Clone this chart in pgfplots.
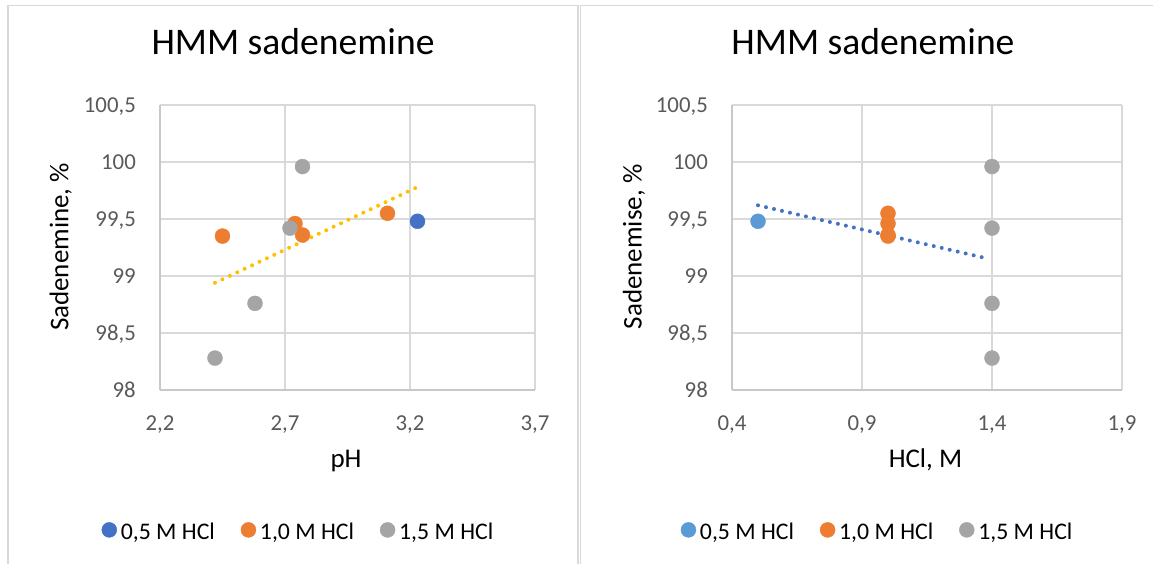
\documentclass[border=0pt]{standalone}
\usepackage{pgfplots}
\pgfplotsset{compat=1.18}
\usepackage{fontspec}
\setmainfont{Carlito}
\definecolor{xblue}{HTML}{4472C4}
\definecolor{xlblue}{HTML}{5B9BD5}
\definecolor{xorange}{HTML}{ED7D31}
\definecolor{xgray}{HTML}{A5A5A5}
\definecolor{xyellow}{HTML}{FFC000}
\definecolor{gridc}{HTML}{D9D9D9}
\definecolor{axisc}{HTML}{C8C8C8}
\definecolor{tickc}{HTML}{595959}
\definecolor{framec}{HTML}{D9D9D9}
\pgfplotsset{
  panel/.style={
    scale only axis, height=285pt,
    ymin=98, ymax=100.5,
    ytick={98,98.5,99,99.5,100,100.5},
    yticklabels={98,{98,5},99,{99,5},100,{100,5}},
    /pgf/number format/assume math mode=true,
    grid=major, major grid style={gridc, line width=1.3pt},
    axis x line=bottom, axis y line=left,
    axis line style={-, axisc, line width=1.3pt},
    major tick length=0pt,
    tick label style={font=\fontsize{22.8}{26}\selectfont, color=tickc, inner sep=0pt, text depth=0pt},
    yticklabel style={anchor=east, xshift=-24pt},
    xticklabel style={anchor=north, yshift=-25.5pt},
    title style={font=\fontsize{37.6}{42}\selectfont, anchor=base},
    label style={font=\fontsize{27}{31}\selectfont},
    xlabel style={anchor=base, at={(axis description cs:0.496,-0.272)}},
    legend columns=3,
    legend style={draw=none, fill=none, inner sep=0pt,
      font=\fontsize{23.8}{27}\selectfont,
      nodes={inner sep=0pt},
      /tikz/every odd column/.append style={column sep=4pt},
      /tikz/every even column/.append style={column sep=26pt}},
    legend image code/.code={\draw[#1] plot coordinates {(0pt,2pt)};},
  },
  pts/.style={only marks, mark=*, mark size=7.5pt, mark options={draw=none, fill=#1}, color=#1},
  trend/.style={forget plot, color=#1, line width=4pt, line cap=round, dash pattern=on 0pt off 8.2pt},
}
\begin{document}
\begin{tikzpicture}
\useasboundingbox (0pt,0pt) rectangle (1153pt,564pt);
\draw[framec, line width=1.3pt] (8pt,0pt) -- (8pt,558.3pt) -- (578pt,558.3pt) -- (578pt,0pt);
\draw[framec, line width=1.3pt] (580.3pt,0pt) -- (580.3pt,558.5pt) -- (1153pt,558.5pt);

\begin{axis}[panel, at={(160pt,174pt)}, anchor=south west, width=375pt,
  xmin=2.2, xmax=3.7, xtick={2.2,2.7,3.2,3.7},
  xticklabels={{2,2},{2,7},{3,2},{3,7}},
  title={HMM sadenemine},
  title style={at={(axis description cs:0.3547,1.1544)}},
  xlabel={pH}, ylabel={Sadenemine, \%},
  ylabel style={anchor=base, at={(axis description cs:-0.244,0.502)}},
  legend style={at={(axis description cs:0.3667,-0.497)}, anchor=center},
]
\addplot[pts=xblue] coordinates {(3.23,99.48)};
\addlegendentry{0,5 M HCl}
\addplot[pts=xorange] coordinates {(2.45,99.35) (2.74,99.46) (2.77,99.36) (3.11,99.55)};
\addlegendentry{1,0 M HCl}
\addplot[pts=xgray] coordinates {(2.42,98.28) (2.58,98.76) (2.72,99.42) (2.77,99.96)};
\addlegendentry{1,5 M HCl}
\addplot[trend=xyellow] coordinates {(2.42,98.94) (3.23,99.78)};
\end{axis}

\begin{axis}[panel, at={(732pt,174pt)}, anchor=south west, width=390pt,
  xmin=0.4, xmax=1.9, xtick={0.4,0.9,1.4,1.9},
  xticklabels={{0,4},{0,9},{1,4},{1,9}},
  title={HMM sadenemine},
  title style={at={(axis description cs:0.3615,1.1544)}},
  xlabel={HCl, M}, ylabel={Sadenemise, \%},
  ylabel style={anchor=base, at={(axis description cs:-0.232,0.502)}},
  legend style={at={(axis description cs:0.371,-0.497)}, anchor=center},
]
\addplot[pts=xlblue] coordinates {(0.5,99.48)};
\addlegendentry{0,5 M HCl}
\addplot[pts=xorange] coordinates {(1.0,99.55) (1.0,99.46) (1.0,99.36) (1.0,99.35)};
\addlegendentry{1,0 M HCl}
\addplot[pts=xgray] coordinates {(1.4,99.96) (1.4,99.42) (1.4,98.76) (1.4,98.28)};
\addlegendentry{1,5 M HCl}
\addplot[trend=xblue] coordinates {(0.5,99.62) (1.37,99.16)};
\end{axis}
\end{tikzpicture}
\end{document}
